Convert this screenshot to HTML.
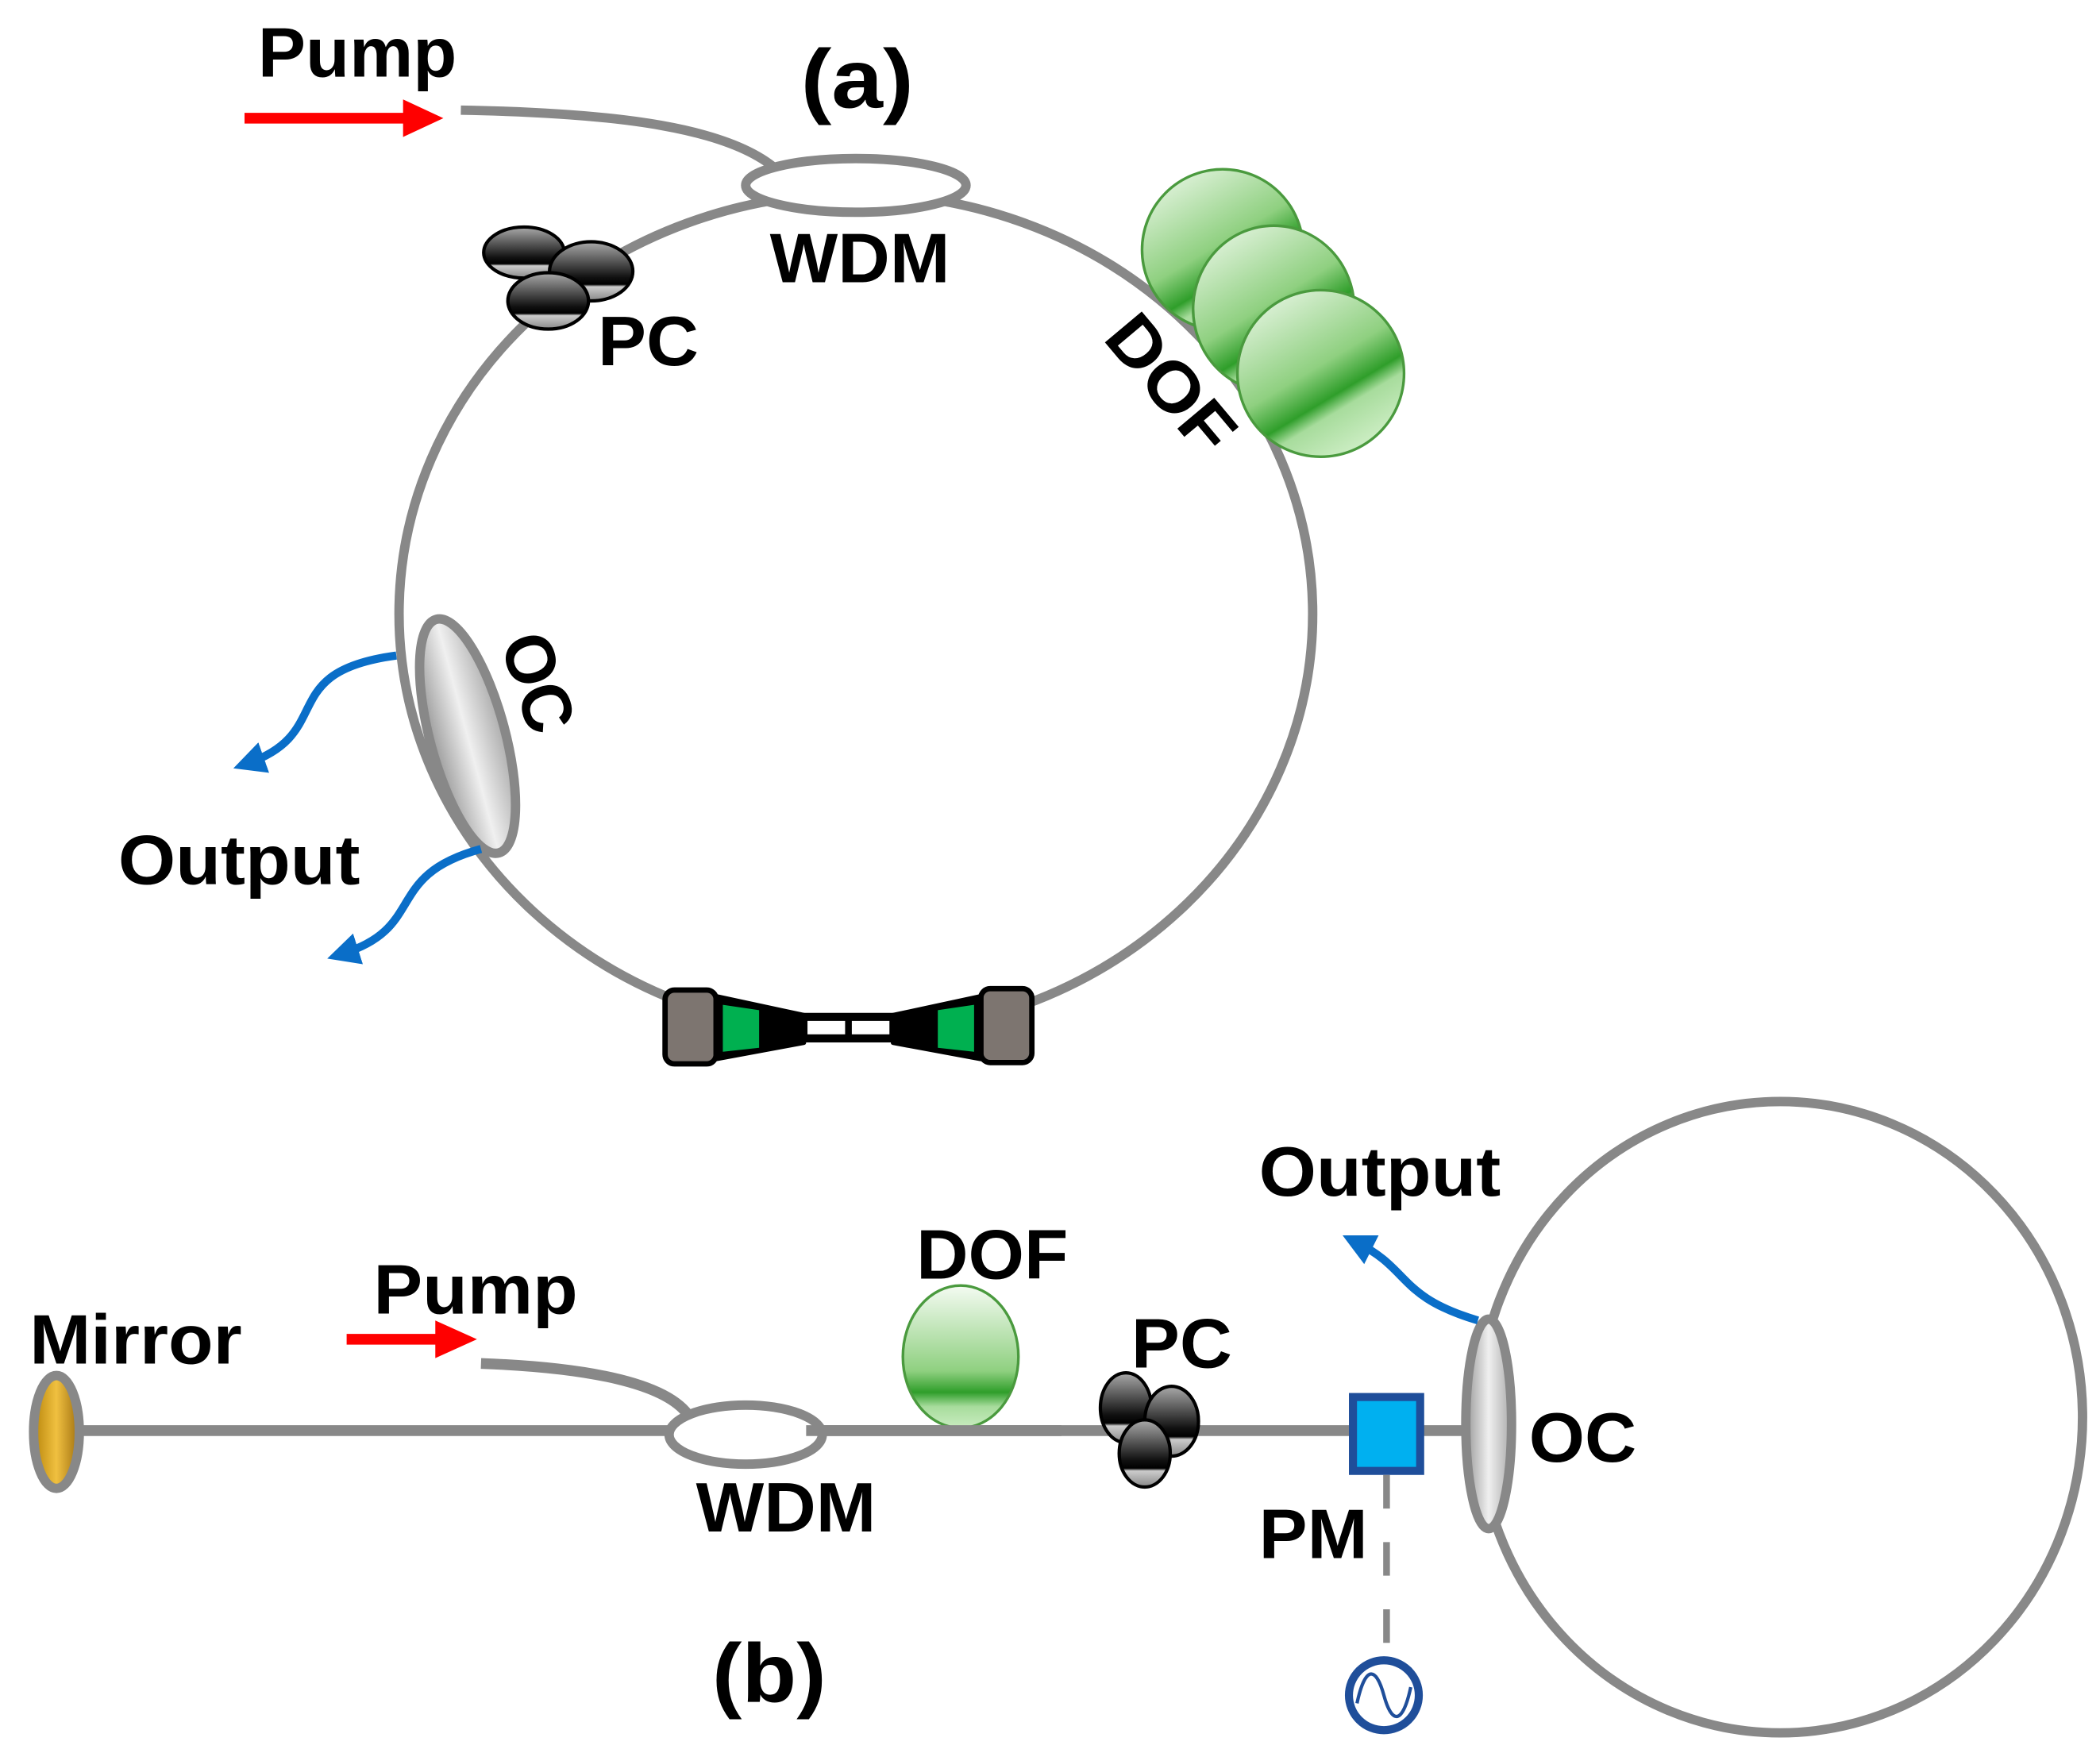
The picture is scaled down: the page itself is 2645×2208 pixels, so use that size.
<!DOCTYPE html>
<html><head><meta charset="utf-8"><style>
html,body{margin:0;padding:0;background:#fff;}
svg{display:block;}
text{font-family:"Liberation Sans",Arial,sans-serif;font-weight:bold;fill:#000;}
</style></head><body>
<svg width="2645" height="2208" viewBox="0 0 1563 1305" preserveAspectRatio="none" xmlns="http://www.w3.org/2000/svg">
<defs>
<linearGradient id="pc" x1="0" y1="0" x2="0" y2="1">
<stop offset="0" stop-color="#aaa"/><stop offset="0.6" stop-color="#111"/><stop offset="0.72" stop-color="#000"/><stop offset="0.76" stop-color="#ccc"/><stop offset="1" stop-color="#888"/>
</linearGradient>
<linearGradient id="gr" x1="0" y1="0" x2="0.6" y2="1">
<stop offset="0" stop-color="#f4fbf2"/><stop offset="0.55" stop-color="#8fd080"/><stop offset="0.72" stop-color="#2f9e2a"/><stop offset="0.8" stop-color="#a7dc9c"/><stop offset="1" stop-color="#c9ecc0"/>
</linearGradient>
<linearGradient id="gr2" x1="0" y1="0" x2="0" y2="1">
<stop offset="0" stop-color="#f4fbf2"/><stop offset="0.6" stop-color="#8fd080"/><stop offset="0.75" stop-color="#2f9e2a"/><stop offset="0.85" stop-color="#a7dc9c"/><stop offset="1" stop-color="#c9ecc0"/>
</linearGradient>
<linearGradient id="oc" x1="0" y1="0" x2="1" y2="0">
<stop offset="0" stop-color="#999"/><stop offset="0.5" stop-color="#f0f0f0"/><stop offset="1" stop-color="#aaa"/>
</linearGradient>
<linearGradient id="gold" x1="0" y1="0" x2="1" y2="0">
<stop offset="0" stop-color="#b8860b"/><stop offset="0.5" stop-color="#f0c040"/><stop offset="1" stop-color="#a07010"/>
</linearGradient>
<marker id="ab" markerWidth="4" markerHeight="4" refX="2" refY="2" orient="auto" markerUnits="strokeWidth"><path d="M0,0 L4,2 L0,4 Z" fill="#0a6ec8"/></marker>
</defs>

<!-- (a) -->
<ellipse cx="637" cy="457" rx="340" ry="313" fill="none" stroke="#888" stroke-width="7"/>
<path d="M343,82 C460,84 545,95 580,128" fill="none" stroke="#888" stroke-width="7"/>
<line x1="182" y1="88" x2="305" y2="88" stroke="#f00" stroke-width="8"/>
<path d="M300,74 L330,88 L300,102 Z" fill="#f00"/>
<ellipse cx="637" cy="138" rx="82" ry="20" fill="#fff" stroke="#888" stroke-width="7"/>
<text x="192" y="57" font-size="52" textLength="148" lengthAdjust="spacingAndGlyphs">Pump</text>
<text x="596" y="80" font-size="62" textLength="84" lengthAdjust="spacingAndGlyphs">(a)</text>
<text x="573" y="210" font-size="52" textLength="134" lengthAdjust="spacingAndGlyphs">WDM</text>
<!-- PC -->
<ellipse cx="390" cy="188" rx="30" ry="19" fill="url(#pc)" stroke="#000" stroke-width="2.5"/>
<ellipse cx="440" cy="202" rx="31" ry="22" fill="url(#pc)" stroke="#000" stroke-width="2.5"/>
<ellipse cx="408" cy="224" rx="30" ry="21" fill="url(#pc)" stroke="#000" stroke-width="2.5"/>
<text x="445" y="272" font-size="52" textLength="75" lengthAdjust="spacingAndGlyphs">PC</text>
<!-- DOF -->
<ellipse cx="910" cy="186" rx="60" ry="60" fill="url(#gr)" stroke="#4a9a3e" stroke-width="2"/>
<ellipse cx="948" cy="230" rx="60" ry="62" fill="url(#gr)" stroke="#4a9a3e" stroke-width="2"/>
<ellipse cx="983" cy="278" rx="62" ry="62" fill="url(#gr)" stroke="#4a9a3e" stroke-width="2"/>
<text x="0" y="0" font-size="52" textLength="118" lengthAdjust="spacingAndGlyphs" transform="translate(820,252) rotate(50)">DOF</text>
<!-- OC -->
<ellipse cx="348" cy="548" rx="28" ry="90" transform="rotate(-15 348 548)" fill="url(#oc)" stroke="#888" stroke-width="7"/>
<text x="0" y="0" font-size="52" textLength="75" lengthAdjust="spacingAndGlyphs" transform="translate(372,478) rotate(72)">OC</text>
<path d="M295,488 C205,500 250,545 185,568" fill="none" stroke="#0a6ec8" stroke-width="6" marker-end="url(#ab)"/>
<path d="M358,632 C285,652 318,690 255,710" fill="none" stroke="#0a6ec8" stroke-width="6" marker-end="url(#ab)"/>
<text x="88" y="658" font-size="52" textLength="180" lengthAdjust="spacingAndGlyphs">Output</text>
<!-- connector -->
<g stroke="#000" stroke-width="4" stroke-linejoin="round">
<rect x="495" y="737" width="38" height="55" rx="7" fill="#7d7570"/>
<rect x="730" y="736" width="38" height="55" rx="7" fill="#7d7570"/>
<path d="M533,742 L598,756 L598,776 L533,788 Z" fill="#000"/>
<path d="M730,742 L665,756 L665,776 L730,788 Z" fill="#000"/>
<path d="M538,748 L565,752 L565,780 L538,783 Z" fill="#00b050" stroke="none"/>
<path d="M725,748 L698,752 L698,780 L725,783 Z" fill="#00b050" stroke="none"/>
<rect x="598" y="756" width="67" height="18" fill="#000"/>
<rect x="601" y="760" width="28" height="10" fill="#fff" stroke="none"/>
<rect x="634" y="760" width="28" height="10" fill="#fff" stroke="none"/>
</g>

<!-- (b) -->
<line x1="60" y1="1065" x2="1095" y2="1065" stroke="#888" stroke-width="8"/>
<ellipse cx="1325" cy="1055" rx="225" ry="235" fill="none" stroke="#888" stroke-width="7"/>
<ellipse cx="42" cy="1066" rx="17" ry="42" fill="url(#gold)" stroke="#888" stroke-width="7"/>
<text x="22" y="1015" font-size="52" textLength="158" lengthAdjust="spacingAndGlyphs">Mirror</text>
<path d="M358,1015 C440,1018 495,1030 512,1053" fill="none" stroke="#888" stroke-width="8"/>
<line x1="258" y1="997" x2="330" y2="997" stroke="#f00" stroke-width="8"/>
<path d="M324,983 L355,997 L324,1011 Z" fill="#f00"/>
<text x="278" y="978" font-size="52" textLength="152" lengthAdjust="spacingAndGlyphs">Pump</text>
<ellipse cx="555" cy="1068" rx="57" ry="22" fill="#fff" stroke="#888" stroke-width="7"/>
<text x="518" y="1140" font-size="52" textLength="134" lengthAdjust="spacingAndGlyphs">WDM</text>
<ellipse cx="715" cy="1010" rx="43" ry="53" fill="url(#gr2)" stroke="#4a9a3e" stroke-width="2"/>
<line x1="600" y1="1065" x2="790" y2="1065" stroke="#888" stroke-width="8"/>
<text x="682" y="952" font-size="52" textLength="113" lengthAdjust="spacingAndGlyphs">DOF</text>
<ellipse cx="838" cy="1048" rx="19" ry="26" fill="url(#pc)" stroke="#000" stroke-width="2.5"/>
<ellipse cx="872" cy="1058" rx="20" ry="26" fill="url(#pc)" stroke="#000" stroke-width="2.5"/>
<ellipse cx="852" cy="1082" rx="19" ry="25" fill="url(#pc)" stroke="#000" stroke-width="2.5"/>
<text x="842" y="1018" font-size="52" textLength="75" lengthAdjust="spacingAndGlyphs">PC</text>
<rect x="1007" y="1040" width="50" height="55" fill="#00b0f0" stroke="#1f4e9a" stroke-width="6"/>
<line x1="1032" y1="1098" x2="1032" y2="1230" stroke="#888" stroke-width="5" stroke-dasharray="25,25"/>
<circle cx="1030" cy="1262" r="26" fill="#fff" stroke="#1f4e9a" stroke-width="6"/>
<path d="M1010,1268 C1016,1240 1024,1240 1030,1262 C1036,1284 1044,1284 1050,1256" fill="none" stroke="#1f4e9a" stroke-width="2.5"/>
<text x="937" y="1160" font-size="52" textLength="81" lengthAdjust="spacingAndGlyphs">PM</text>
<ellipse cx="1108" cy="1060" rx="17" ry="78" fill="url(#oc)" stroke="#888" stroke-width="7"/>
<text x="1138" y="1088" font-size="52" textLength="80" lengthAdjust="spacingAndGlyphs">OC</text>
<path d="M1100,983 C1040,965 1050,945 1010,925" fill="none" stroke="#0a6ec8" stroke-width="6" marker-end="url(#ab)"/>
<text x="937" y="890" font-size="52" textLength="180" lengthAdjust="spacingAndGlyphs">Output</text>
<text x="530" y="1267" font-size="62" textLength="85" lengthAdjust="spacingAndGlyphs">(b)</text>
</svg>
</body></html>
